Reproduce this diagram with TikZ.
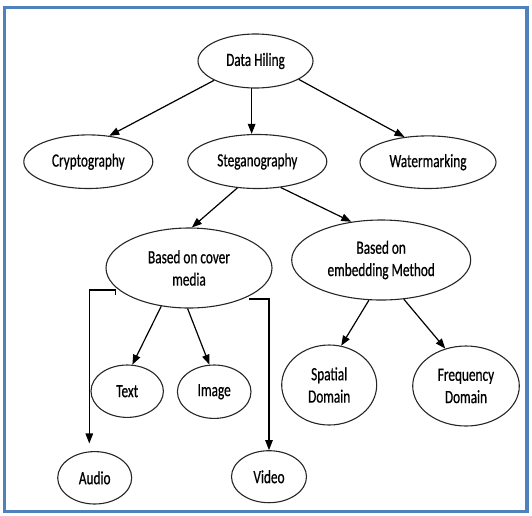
\documentclass[tikz,border=0pt]{standalone}
\usepackage{fontspec}
\usetikzlibrary{shapes.geometric,arrows.meta,calc}
\newfontfamily\diagfont{Carlito}[FakeStretch=0.71,FakeBold=0.6]
\newcommand\diagtextfont{\diagfont\fontsize{18.7}{22.3}\selectfont}
\definecolor{framecol}{RGB}{79,129,189}
\tikzset{
  ell/.style={draw=black!85, line width=1.1pt, ellipse, inner sep=0pt, align=center, font=\diagtextfont, text=black},
  arr/.style={draw=black, line width=1.2pt, -{Triangle[length=10pt,width=7.5pt]}},
  elbow/.style={draw=black, line width=1.1pt, -{Triangle[length=10pt,width=7.5pt]}}
}
\begin{document}
\begin{tikzpicture}[x=1pt,y=-1pt]
\useasboundingbox (0,0) rectangle (532,515);
\draw[framecol, line width=3.5pt] (4.5,7.5) rectangle (527,511.5);

\node[ell, minimum width=115pt, minimum height=54pt] (dh) at (255.5,61) {Data Hiling};
\node[ell, minimum width=129pt, minimum height=53.6pt] (crypt) at (88.3,161.7) {Cryptography};
\node[ell, minimum width=139pt, minimum height=54pt] (steg) at (257.3,161.5) {Steganography};
\node[ell, minimum width=136pt, minimum height=52.6pt] (water) at (428,162.2) {Watermarking};
\node[ell, minimum width=166pt, minimum height=80pt] (cover) at (189,268) {Based on cover\\media};
\node[ell, minimum width=179pt, minimum height=80pt] (embed) at (381.2,260) {Based on\\embedding Method};
\node[ell, minimum width=72.4pt, minimum height=52.4pt] (text) at (127.2,391.2) {Text};
\node[ell, minimum width=73.6pt, minimum height=53.4pt] (image) at (214.2,391.7) {Image};
\node[ell, minimum width=95pt, minimum height=80pt] (spatial) at (329.2,385) {Spatial\\Domain};
\node[ell, minimum width=106.6pt, minimum height=80pt] (freq) at (466,386) {Frequency\\Domain};
\node[ell, minimum width=74pt, minimum height=52.4pt] (audio) at (94.7,477.8) {Audio};
\node[ell, minimum width=75pt, minimum height=52pt] (video) at (269,476.7) {Video};

\draw[arr] (dh.205) -- (crypt.51);
\draw[arr] (dh.262) -- (dh.262 |- steg.north);
\draw[arr] (dh.337) -- (water.133);
\draw[arr] (steg.233) -- (cover.86);
\draw[arr] (steg.312) -- (embed.128);
\draw[arr] (cover.234) -- (text.79);
\draw[arr] (cover.268) -- (image.100);
\draw[arr] (embed.253) -- (spatial.73);
\draw[arr] (embed.300) -- (freq.119);

\coordinate (audtick) at ($(cover.center)+(-73.3,27)$);
\coordinate (audend) at ($(audio.north)+(-5.4,-7.6)$);
\coordinate (vidstart) at ($(cover.center)+(60,31)$);
\draw[elbow] (audtick) -- ++(0,-5) -| (audend);
\draw[elbow] (vidstart) -| (video.north);
\end{tikzpicture}
\end{document}
